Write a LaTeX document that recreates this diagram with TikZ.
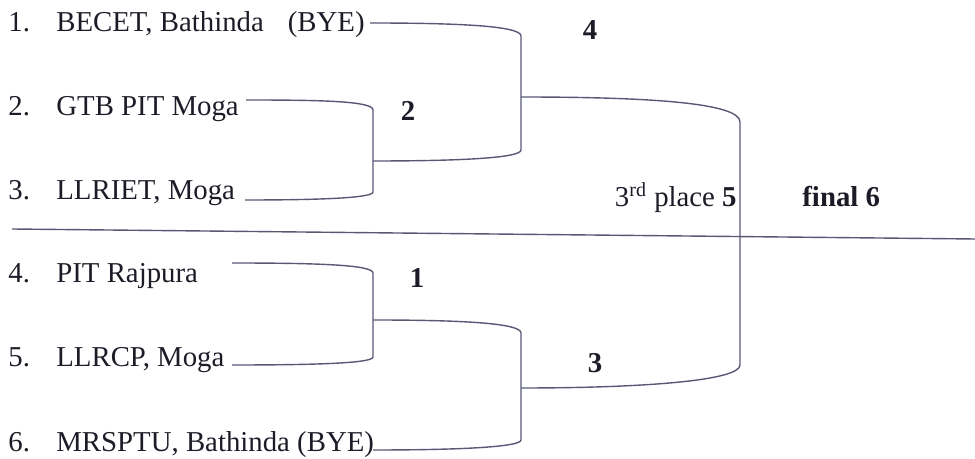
\documentclass[tikz,border=0pt]{standalone}
\usepackage{fontspec}
\setmainfont{Liberation Serif}
\usetikzlibrary{positioning}

\definecolor{ink}{RGB}{28,28,40}
\definecolor{wire}{RGB}{88,88,118}

\newcommand{\seed}[1]{\makebox[24pt][l]{#1}}

\begin{document}
\begin{tikzpicture}[x=0.5pt, y=-0.5pt,
		team/.style={anchor=base west, inner sep=0pt, text=ink, font=\fontsize{14.4}{17}\selectfont},
		round/.style={anchor=base, inner sep=0pt, text=ink, font=\fontsize{14.4}{17}\selectfont\bfseries},
		tie/.style={draw=wire, line width=0.7pt}]
		\useasboundingbox (0,0) rectangle (975,459);

		\path (8, 32)   node[team] (t1) {\seed{1.}BECET, Bathinda\hspace{12pt}(BYE)}
		      (8, 116)  node[team] (t2) {\seed{2.}GTB PIT Moga}
		      (8, 200)  node[team] (t3) {\seed{3.}LLRIET, Moga}
		      (8, 283)  node[team] (t4) {\seed{4.}PIT Rajpura}
		      (8, 367)  node[team] (t5) {\seed{5.}LLRCP, Moga}
		      (8, 452)  node[team] (t6) {\seed{6.}MRSPTU, Bathinda (BYE)};

		\path (408, 121) node[round] (r2) {2}
		      (590, 40)  node[round] (r4) {4}
		      (417, 288) node[round] (r1) {1}
		      (595, 373) node[round] (r3) {3}
		      (737, 207) node[team, anchor=base east] (third) {3\textsuperscript{rd} place \textbf{5}}
		      (802, 207) node[round, anchor=base west] (final) {final 6};

		% where the lines leave the names
		\coordinate (s1) at (370, 23);
		\coordinate (s2) at (246, 100);
		\coordinate (s3) at (245, 200);
		\coordinate (s4) at (232, 263);
		\coordinate (s5) at (232, 365);
		\coordinate (s6) at (373, 450);
		% winners
		\coordinate (w2) at (373, 161);
		\coordinate (w4) at (521, 97);
		\coordinate (w1) at (373, 320);
		\coordinate (w3) at (521, 388);
		\coordinate (d1) at (12, 229);
		\coordinate (d2) at (975, 239);

		\draw[tie] (s2) .. controls (320, 100) and (373, 101) .. (373, 110)
		           -- (373, 192) .. controls (373, 198) and (320, 200) .. (s3);
		\draw[tie] (s1) .. controls (460, 23) and (521, 26) .. (521, 36)
		           -- (521, 150) .. controls (521, 158) and (460, 161) .. (w2);
		\draw[tie] (s4) .. controls (320, 263) and (373, 265) .. (373, 273)
		           -- (373, 357) .. controls (373, 363) and (320, 365) .. (s5);
		\draw[tie] (w1) .. controls (460, 320) and (521, 323) .. (521, 333)
		           -- (521, 440) .. controls (521, 447) and (460, 450) .. (s6);
		\draw[tie] (w4) .. controls (650, 97) and (740, 103) .. (740, 122)
		           -- (740, 365) .. controls (740, 380) and (650, 388) .. (w3);
		\draw[tie] (d1) -- (d2);
	\end{tikzpicture}
\end{document}
